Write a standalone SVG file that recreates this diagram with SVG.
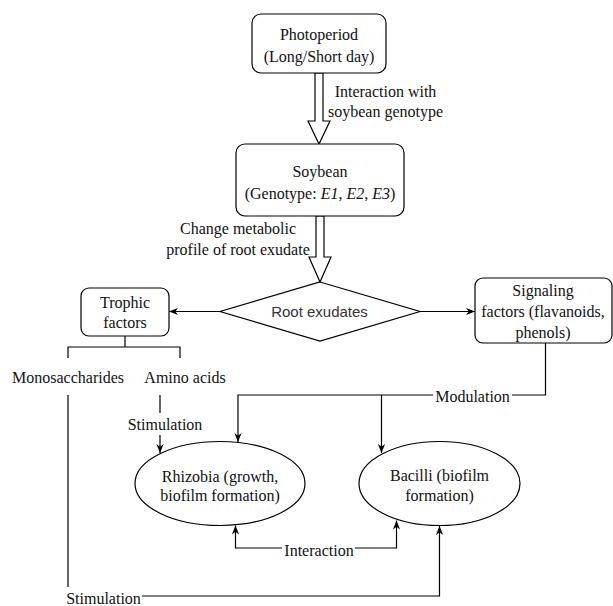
<svg xmlns="http://www.w3.org/2000/svg" width="613" height="606" viewBox="0 0 613 606">
<style>
.box{fill:#fff;stroke:#000;stroke-width:1.2}
.t{font-family:"Liberation Serif","Times New Roman",serif;font-size:16px;fill:#111;text-anchor:middle}
.s{font-family:"Liberation Sans",Arial,sans-serif;font-size:15px;fill:#333;text-anchor:middle}
.c{fill:none;stroke:#000;stroke-width:1.2}
.a{marker-end:url(#arr)}
</style>
<defs>
<marker id="arr" viewBox="0 0 10 8" refX="10" refY="4" markerWidth="9" markerHeight="8" markerUnits="userSpaceOnUse" orient="auto">
<path d="M0,0 L10,4 L0,8 L3,4 z" fill="#000"/>
</marker>
</defs>
<rect width="613" height="606" fill="#fff"/>

<g id="connectors">
<polygon class="box" points="315,73 323,73 323,121 330,121 319,144 308,121 315,121"/>
<polygon class="box" points="316,216 324,216 324,257 331,257 320,282 309,257 316,257"/>
<path class="c a" d="M220,311.5 H169"/>
<path class="c a" d="M420,311.5 H475"/>
<path class="c" d="M125,336 V347 M68,358 V347 H180 V358"/>
<path class="c" d="M545.5,343 V395 H512"/>
<path class="c a" d="M433,395 H238 V442"/>
<path class="c a" d="M381.5,395 V453"/>
<path class="c" d="M160,395 V413"/>
<path class="c a" d="M160,435 V453"/>
<path class="c a" d="M282,548 H235.5 V525.5"/>
<path class="c a" d="M355,548 H396.5 V520.5"/>
<path class="c" d="M68,395 V587"/>
<path class="c a" d="M142,596 H439.5 V526"/>
<text class="t" x="385.5" y="97">Interaction with</text>
<text class="t" x="385.5" y="117">soybean genotype</text>
<text class="t" x="238" y="234">Change metabolic</text>
<text class="t" x="238" y="255">profile of root exudate</text>
<text class="t" x="472.5" y="401.5">Modulation</text>
<text class="t" x="165" y="430">Stimulation</text>
<text class="t" x="319" y="556">Interaction</text>
<text class="t" x="103.5" y="604">Stimulation</text>
</g>

<g id="photoperiod">
<rect class="box" x="252" y="14" width="134" height="59" rx="9"/>
<text class="t" x="319" y="39.5">Photoperiod</text>
<text class="t" x="319" y="61.5">(Long/Short day)</text>
</g>

<g id="soybean">
<rect class="box" x="236" y="144" width="168" height="72" rx="9"/>
<text class="t" x="320" y="177">Soybean</text>
<text class="t" x="320" y="199">(Genotype: <tspan font-style="italic">E1</tspan>, <tspan font-style="italic">E2</tspan>, <tspan font-style="italic">E3</tspan>)</text>
</g>

<g id="root-exudates">
<polygon class="box" points="320,282 420,311.5 320,341 220,311.5"/>
<text class="s" x="319.5" y="316.5">Root exudates</text>
</g>

<g id="trophic">
<rect class="box" x="81" y="288" width="88" height="48" rx="8"/>
<text class="t" x="125" y="308">Trophic</text>
<text class="t" x="125" y="328">factors</text>
</g>

<g id="signaling">
<rect class="box" x="475" y="278" width="137" height="65" rx="8"/>
<text class="t" x="543" y="296">Signaling</text>
<text class="t" x="543" y="317">factors (flavanoids,</text>
<text class="t" x="543" y="338">phenols)</text>
</g>

<g id="monosaccharides">
<text class="t" x="68" y="383">Monosaccharides</text>
</g>

<g id="amino-acids">
<text class="t" x="185" y="383">Amino acids</text>
</g>

<g id="rhizobia">
<ellipse class="box" cx="220" cy="483.5" rx="85" ry="42"/>
<text class="t" x="220" y="481.5">Rhizobia (growth,</text>
<text class="t" x="220" y="501">biofilm formation)</text>
</g>

<g id="bacilli">
<ellipse class="box" cx="439.5" cy="483.5" rx="80.5" ry="42"/>
<text class="t" x="439.5" y="481">Bacilli (biofilm</text>
<text class="t" x="439.5" y="501">formation)</text>
</g>
</svg>
